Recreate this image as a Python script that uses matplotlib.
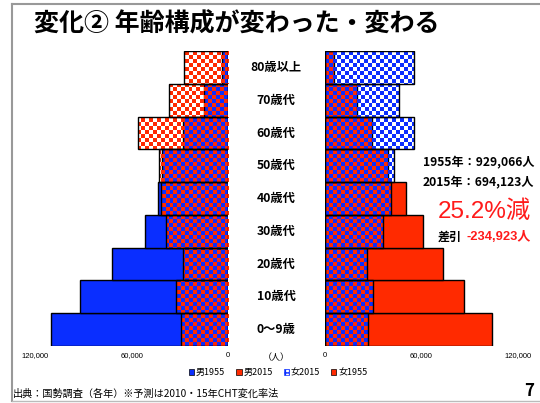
import numpy as np
import matplotlib

matplotlib.use('Agg')
import matplotlib.pyplot as plt
import matplotlib.transforms as mtransforms
from matplotlib.patches import Patch
from matplotlib.lines import Line2D

# 日本語フォント
plt.rcParams['font.family'] = ['Noto Sans CJK JP', 'DejaVu Sans']
plt.rcParams['axes.unicode_minus'] = False

# 年齢階級（下から上）
ages = ['0～9歳', '10歳代', '20歳代', '30歳代', '40歳代', '50歳代', '60歳代', '70歳代', '80歳以上']
male_1955 = [110000, 92000, 72500, 51800, 43500, 41000, 28000, 15100, 4100]
male_2015 = [29200, 32700, 28000, 38500, 42000, 43000, 55900, 36600, 27500]
female_1955 = [104300, 86800, 73500, 61500, 50900, 39500, 29400, 19900, 6000]
female_2015 = [27300, 30000, 26700, 36200, 41200, 42900, 55900, 46400, 55900]
xticks = [0, 60000, 120000]
xtick_labels = ['0', '60,000', '120,000']

BLUE = '#0a2eff'
RED = '#ff2a00'
LAT = ['Liberation Sans', 'Noto Sans CJK JP', 'DejaVu Sans']

fig = plt.figure(figsize=(5.4, 4.03), dpi=100)


def checker(color, w_px, h_px, cell=4):
    """透明地の市松模様（RGBA配列）"""
    nx = int(np.ceil(w_px / cell))
    ny = int(np.ceil(h_px / cell))
    yy, xx = np.indices((ny, nx))
    mask = (xx + yy) % 2 == 0
    img = np.zeros((ny, nx, 4))
    img[mask, :3] = matplotlib.colors.to_rgb(color)
    img[mask, 3] = 1.0
    return img


def draw_side(ax, base_vals, over_vals, base_color, over_color, invert):
    y = np.arange(len(ages))
    ax.barh(y, base_vals, height=1.0, color=base_color, edgecolor='black', linewidth=1.0, zorder=1)
    bars = ax.barh(y, over_vals, height=1.0, facecolor='none', edgecolor='black', linewidth=1.0, zorder=3)

    xlim = (120000, 0) if invert else (0, 120000)
    ylim = (-0.5, len(ages) - 0.5)
    bbox = ax.get_position()
    img = checker(over_color, bbox.width * 540, bbox.height * 403)
    for patch in bars.patches:
        im = ax.imshow(img, extent=(xlim[0], xlim[1], ylim[0], ylim[1]), aspect='auto',
                       interpolation='nearest', zorder=2)
        im.set_clip_path(patch)

    ax.set_xlim(*xlim)
    ax.set_ylim(*ylim)
    ax.set_yticks([])
    ax.set_xticks(xticks)
    ax.set_xticklabels(xtick_labels, fontsize=5.5, family=['Liberation Sans', 'DejaVu Sans'])
    ax.tick_params(axis='x', length=0, pad=4)
    for s in ax.spines.values():
        s.set_visible(False)


ax_l = fig.add_axes([0.0648, 0.1414, 0.358, 0.732])
ax_r = fig.add_axes([0.601, 0.1414, 0.3574, 0.732])
draw_side(ax_l, male_1955, male_2015, BLUE, RED, invert=True)
draw_side(ax_r, female_1955, female_2015, RED, BLUE, invert=False)

# 年齢ラベル（中央）
trans = mtransforms.blended_transform_factory(fig.transFigure, ax_l.transData)
for i, lab in enumerate(ages):
    ax_l.text(0.511, i, lab, transform=trans, ha='center', va='center',
              fontsize=8.8, fontweight='bold', clip_on=False)
fig.text(0.511, 0.114, '（人）', ha='center', va='center', fontsize=6.5)

# タイトル
fig.text(0.063, 0.94, '変化② 年齢構成が変わった・変わる', fontsize=18, fontweight='bold',
         ha='left', va='center')

# 注記
fig.text(0.783, 0.5955, '1955年：929,066人', fontsize=8.7, fontweight='bold', va='center')
fig.text(0.783, 0.546, '2015年：694,123人', fontsize=8.7, fontweight='bold', va='center')
fig.text(0.811, 0.474, '25.2%減', fontsize=17.5, color='#ff1a1a', va='center', family=LAT)
fig.text(0.811, 0.412, '差引', fontsize=8.7, fontweight='bold', va='center')
fig.text(0.863, 0.412, '-234,923人', fontsize=9.3, fontweight='bold', color='#ff1a1a', va='center', family=LAT)

# 凡例
handles = [
    Patch(facecolor=BLUE, edgecolor='black', linewidth=0.5),
    Patch(facecolor=RED, edgecolor='black', linewidth=0.5),
    Patch(facecolor='white', edgecolor=BLUE, hatch='++++', linewidth=0.5),
    Patch(facecolor=RED, edgecolor='black', linewidth=0.5),
]
labels = ['男1955', '男2015', '女2015', '女1955']
fig.legend(handles, labels, loc='center', bbox_to_anchor=(0.515, 0.075), ncol=4, frameon=False,
           fontsize=6.5, handlelength=0.6, handleheight=0.6, handletextpad=0.2, columnspacing=1.2)

# 出典・ページ番号
fig.text(0.024, 0.022, '出典：国勢調査（各年）※予測は2010・15年CHT変化率法', fontsize=7.3, va='center')
fig.text(0.988, 0.030, '7', fontsize=12, fontweight='bold', ha='right', va='center')

# 枠線
fig.add_artist(Line2D([0.022, 0.022], [0.99, 0.004], transform=fig.transFigure, color='#999999', lw=1.5))
fig.add_artist(Line2D([0.022, 1.0], [0.99, 0.99], transform=fig.transFigure, color='#999999', lw=1.5))
fig.add_artist(Line2D([0.022, 1.0], [0.005, 0.005], transform=fig.transFigure, color='#bbbbbb', lw=1.0))

fig.savefig('out.png', dpi=100)
